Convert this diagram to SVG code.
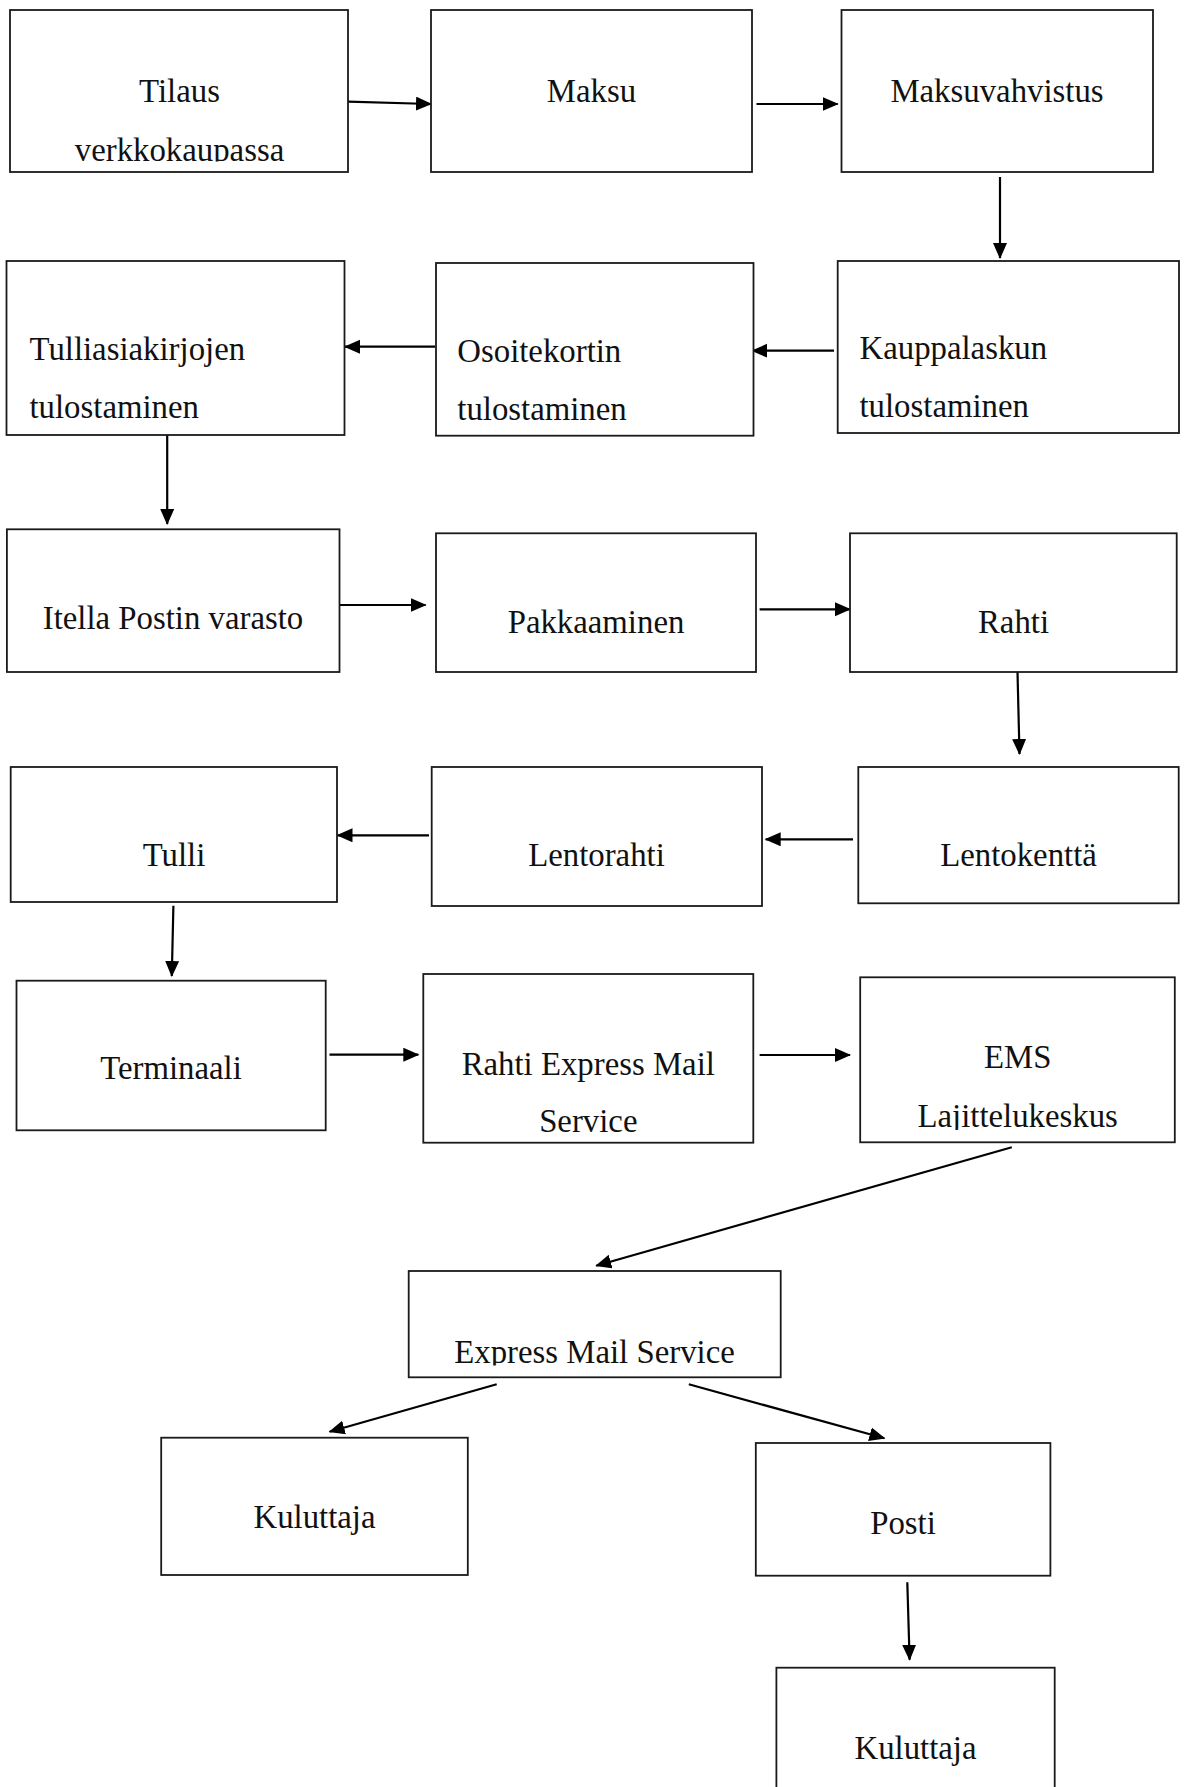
<svg xmlns="http://www.w3.org/2000/svg" width="1187" height="1787" viewBox="0 0 1187 1787">
<style>
.box{fill:#fff;stroke:#1a1a1a;stroke-width:1.8}
.lbl{font-family:"Liberation Serif","Times New Roman",serif;font-size:32.8px;fill:#111}
.c{text-anchor:middle}
.edge{stroke:#000;stroke-width:2.2;fill:none;marker-end:url(#ah)}
</style>
<defs>
<marker id="ah" markerUnits="userSpaceOnUse" markerWidth="17" markerHeight="15" refX="15" refY="7" orient="auto">
<path d="M0,0 L16,7 L0,14 z" fill="#000"/>
</marker>
<clipPath id="clipTilaus"><rect x="10" y="10" width="338" height="151.5"/></clipPath>
<clipPath id="clipEMS"><rect x="860" y="977" width="315" height="153"/></clipPath>
<clipPath id="clipExpress"><rect x="408" y="1271" width="373" height="94.5"/></clipPath>
</defs>
<rect width="1187" height="1787" fill="#fff"/>

<g id="connectors">
<line class="edge" x1="348" y1="101.7" x2="431" y2="104"/>
<line class="edge" x1="756.5" y1="104" x2="837.7" y2="104"/>
<line class="edge" x1="1000" y1="177" x2="1000" y2="258"/>
<line class="edge" x1="834" y1="350.7" x2="752.3" y2="350.7"/>
<line class="edge" x1="435" y1="346.7" x2="345" y2="346.7"/>
<line class="edge" x1="167.2" y1="435" x2="167.2" y2="524"/>
<line class="edge" x1="337.5" y1="605" x2="425.6" y2="605"/>
<line class="edge" x1="759.6" y1="609.3" x2="850" y2="609.3"/>
<line class="edge" x1="1017.5" y1="672" x2="1019.5" y2="754"/>
<line class="edge" x1="853" y1="839.3" x2="765.7" y2="839.3"/>
<line class="edge" x1="429" y1="835.3" x2="337.5" y2="835.3"/>
<line class="edge" x1="173.4" y1="905.7" x2="171.8" y2="976"/>
<line class="edge" x1="329.5" y1="1054.7" x2="418.3" y2="1054.7"/>
<line class="edge" x1="759.6" y1="1055" x2="850" y2="1055"/>
<line class="edge" x1="1011.8" y1="1147.3" x2="596.2" y2="1265.7"/>
<line class="edge" x1="496.7" y1="1384.3" x2="329.6" y2="1431.7"/>
<line class="edge" x1="688.8" y1="1384.3" x2="884.4" y2="1438.3"/>
<line class="edge" x1="907.3" y1="1582.3" x2="909.6" y2="1659.7"/>
</g>

<g id="n-tilaus">
<rect class="box" x="10" y="10" width="338" height="162"/>
<g clip-path="url(#clipTilaus)">
<text class="lbl c" x="179.5" y="101.7">Tilaus</text>
<text class="lbl c" x="179.5" y="161">verkkokaupassa</text>
</g>
</g>
<g id="n-maksu">
<rect class="box" x="431" y="10" width="321" height="162"/>
<text class="lbl c" x="591.5" y="101.7">Maksu</text>
</g>
<g id="n-maksuvahvistus">
<rect class="box" x="841.5" y="10" width="311.5" height="162"/>
<text class="lbl c" x="997" y="101.7">Maksuvahvistus</text>
</g>
<g id="n-tulliasiakirjojen">
<rect class="box" x="6.5" y="261" width="338" height="174"/>
<text class="lbl" x="29.5" y="360">Tulliasiakirjojen</text>
<text class="lbl" x="29.5" y="418.3">tulostaminen</text>
</g>
<g id="n-osoitekortin">
<rect class="box" x="436" y="263" width="317.5" height="172.7"/>
<text class="lbl" x="457.3" y="361.7">Osoitekortin</text>
<text class="lbl" x="457.3" y="420">tulostaminen</text>
</g>
<g id="n-kauppalaskun">
<rect class="box" x="837.7" y="261" width="341.3" height="172"/>
<text class="lbl" x="859.5" y="359.3">Kauppalaskun</text>
<text class="lbl" x="859.5" y="417.3">tulostaminen</text>
</g>
<g id="n-itella">
<rect class="box" x="6.9" y="529.3" width="332.6" height="142.7"/>
<text class="lbl c" x="173" y="629.3">Itella Postin varasto</text>
</g>
<g id="n-pakkaaminen">
<rect class="box" x="436" y="533.3" width="320" height="138.7"/>
<text class="lbl c" x="596" y="632.7">Pakkaaminen</text>
</g>
<g id="n-rahti">
<rect class="box" x="850" y="533.3" width="326.7" height="138.7"/>
<text class="lbl c" x="1013.5" y="632.7">Rahti</text>
</g>
<g id="n-tulli">
<rect class="box" x="10.7" y="767" width="326.3" height="135"/>
<text class="lbl c" x="174" y="866">Tulli</text>
</g>
<g id="n-lentorahti">
<rect class="box" x="431.7" y="767" width="330.3" height="139"/>
<text class="lbl c" x="596.5" y="866">Lentorahti</text>
</g>
<g id="n-lentokentta">
<rect class="box" x="858.3" y="767" width="320.4" height="136.3"/>
<text class="lbl c" x="1018.5" y="866">Lentokenttä</text>
</g>
<g id="n-terminaali">
<rect class="box" x="16.5" y="980.7" width="309.2" height="149.6"/>
<text class="lbl c" x="171" y="1079.3">Terminaali</text>
</g>
<g id="n-rahti-ems">
<rect class="box" x="423.3" y="974" width="330" height="168.7"/>
<text class="lbl c" x="588.3" y="1075">Rahti Express Mail</text>
<text class="lbl c" x="588.3" y="1131.7">Service</text>
</g>
<g id="n-ems">
<rect class="box" x="860.2" y="977.3" width="314.6" height="165"/>
<g clip-path="url(#clipEMS)">
<text class="lbl c" x="1017.7" y="1067.7">EMS</text>
<text class="lbl c" x="1017.7" y="1126.7">Lajittelukeskus</text>
</g>
</g>
<g id="n-express">
<rect class="box" x="408.7" y="1271" width="372" height="106.3"/>
<g clip-path="url(#clipExpress)">
<text class="lbl c" x="594.5" y="1363.3">Express Mail Service</text>
</g>
</g>
<g id="n-kuluttaja1">
<rect class="box" x="161.2" y="1437.7" width="306.6" height="137.3"/>
<text class="lbl c" x="314.5" y="1528.3">Kuluttaja</text>
</g>
<g id="n-posti">
<rect class="box" x="755.8" y="1443" width="294.6" height="132.7"/>
<text class="lbl c" x="903" y="1533.7">Posti</text>
</g>
<g id="n-kuluttaja2">
<rect class="box" x="776.4" y="1667.7" width="278.3" height="140"/>
<text class="lbl c" x="915.5" y="1758.7">Kuluttaja</text>
</g>
</svg>
